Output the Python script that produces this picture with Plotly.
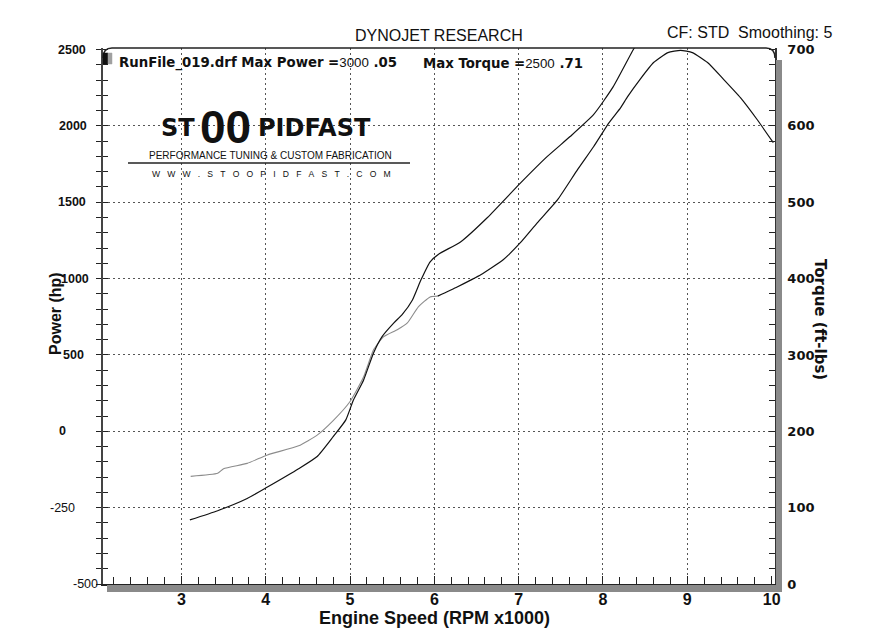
import plotly.graph_objects as go

# ---------------- data ----------------
# black curve (rises steeply, leaves the top of the chart)
rpm_a = [3.10, 3.43, 3.78, 4.02, 4.39, 4.61, 4.80, 4.95, 5.04, 5.16, 5.28, 5.38, 5.52,
         5.62, 5.74, 5.84, 5.95, 6.05, 6.31, 6.63, 7.02, 7.34, 7.61, 7.89, 8.12, 8.36, 8.45]
tq_a = [84, 96, 112, 127, 151, 167, 193, 215, 241, 267, 303, 324, 342,
        353, 372, 398, 422, 432, 448, 480, 525, 560, 586, 615, 651, 700, 716]

# grey curve (low rpm part)
rpm_b = [3.11, 3.43, 3.50, 3.78, 4.02, 4.39, 4.61, 4.80, 5.00, 5.16, 5.28, 5.40,
         5.56, 5.68, 5.81, 5.95, 6.04]
tq_b = [141, 145, 151, 158, 169, 181, 195, 214, 239, 271, 307, 324,
        333, 342, 363, 376, 377]

# black curve continuing from 6000 rpm, peaking near 8900 rpm
rpm_c = [6.04, 6.27, 6.43, 6.55, 6.82, 7.02, 7.22, 7.46, 7.70, 7.89, 8.07, 8.21,
         8.29, 8.44, 8.60, 8.77, 8.92, 9.06, 9.24, 9.43, 9.63, 9.83, 10.02]
tq_c = [377, 389, 398, 405, 425, 447, 473, 503, 543, 573, 604, 624,
        638, 661, 683, 696, 699, 696, 683, 661, 637, 608, 578]

x_tick_vals = [3, 4, 5, 6, 7, 8, 9, 10]
x_tick_text = ["3", "4", "5", "6", "7", "8", "9", "10"]
x_grid_vals = [3, 4, 5, 6, 7, 8, 9]

torque_tick_vals = [0, 100, 200, 300, 400, 500, 600, 700]
torque_tick_text = ["0", "100", "200", "300", "400", "500", "600", "700"]
power_tick_text = ["-500", "-250", "0", "500", "1000", "1500", "2000", "2500"]
y_grid_vals = [100, 200, 300, 400, 500, 600]

# ---------------- layout helpers ----------------
W, H = 873, 637
L, R, T, B = 103, 775, 48, 584
PW, PH = R - L, B - T
X_RANGE = [2.07, 10.04]
Y_RANGE = [0, 702]


def px(x):
    return (x - L) / PW


def py(y):
    return (B - y) / PH


GRID_DASH = "1.5px,3.5px"
GRID_COLOR = "#555555"
AX_COLOR = "#222222"
BAR = "#8a8a8a"

fig = go.Figure()
fig.add_trace(go.Scatter(x=rpm_b, y=tq_b, mode="lines",
                         line=dict(color="#8c8c8c", width=1.1, shape="spline", smoothing=0.5),
                         hoverinfo="skip", showlegend=False))
fig.add_trace(go.Scatter(x=rpm_a, y=tq_a, mode="lines",
                         line=dict(color="#111111", width=1.2, shape="spline", smoothing=0.5),
                         hoverinfo="skip", showlegend=False))
fig.add_trace(go.Scatter(x=rpm_c, y=tq_c, mode="lines",
                         line=dict(color="#111111", width=1.2, shape="spline", smoothing=0.5),
                         hoverinfo="skip", showlegend=False))
# empty traces so the overlay axes are drawn
fig.add_trace(go.Scatter(x=[], y=[], yaxis="y2", showlegend=False, hoverinfo="skip"))
fig.add_trace(go.Scatter(x=[], y=[], yaxis="y3", showlegend=False, hoverinfo="skip"))
fig.add_trace(go.Scatter(x=[], y=[], xaxis="x2", showlegend=False, hoverinfo="skip"))

minor_x = dict(tickmode="linear", tick0=0, dtick=0.2, ticks="inside", ticklen=7,
               tickcolor=AX_COLOR, tickwidth=1, showgrid=False)

fig.update_layout(
    width=W, height=H,
    margin=dict(l=L, r=W - R, t=T, b=H - B, pad=0),
    paper_bgcolor="white",
    plot_bgcolor="white",
    showlegend=False,
    xaxis=dict(range=X_RANGE, tickmode="array", tickvals=x_tick_vals, ticktext=x_tick_text,
               ticks="inside", ticklen=8, tickcolor=AX_COLOR, tickwidth=1,
               showline=True, linecolor=AX_COLOR, linewidth=1.5,
               showgrid=False, zeroline=False, minor=minor_x,
               tickfont=dict(family="Liberation Sans, Arial", size=16, color="#111", weight="bold"),
               ticklabelstandoff=0, fixedrange=True),
    xaxis2=dict(range=X_RANGE, overlaying="x", tickmode="array", tickvals=x_grid_vals,
                showticklabels=False, ticks="", showgrid=True, gridcolor=GRID_COLOR,
                griddash=GRID_DASH, gridwidth=1, zeroline=False, showline=False, fixedrange=True),
    yaxis=dict(range=Y_RANGE, tickmode="array", tickvals=torque_tick_vals,
               showticklabels=False, ticks="outside", ticklen=5, tickcolor=AX_COLOR, tickwidth=1,
               minor=dict(tickmode="linear", tick0=0, dtick=20, ticks="outside", ticklen=5,
                          tickcolor=AX_COLOR, tickwidth=1, showgrid=False),
               showline=True, linecolor="#444444", linewidth=2,
               showgrid=False, zeroline=False, fixedrange=True),
    yaxis3=dict(range=Y_RANGE, overlaying="y", anchor="x", side="left",
                tickmode="array", tickvals=y_grid_vals, showticklabels=False,
                ticks="inside", ticklen=5, tickcolor=AX_COLOR, tickwidth=1,
                minor=dict(tickmode="linear", tick0=0, dtick=20, ticks="inside", ticklen=5,
                           tickcolor=AX_COLOR, tickwidth=1, showgrid=False),
                showgrid=True, gridcolor=GRID_COLOR, griddash=GRID_DASH, gridwidth=1,
                showline=False, zeroline=False, fixedrange=True),
    yaxis2=dict(range=Y_RANGE, overlaying="y", anchor="x", side="right",
                tickmode="array", tickvals=torque_tick_vals, ticktext=torque_tick_text,
                ticks="inside", ticklen=6, tickcolor=AX_COLOR, tickwidth=1,
                minor=dict(tickmode="linear", tick0=0, dtick=20, ticks="inside", ticklen=6,
                           tickcolor=AX_COLOR, tickwidth=1, showgrid=False),
                showline=True, linecolor="#333333", linewidth=1.5,
                showgrid=False, zeroline=False,
                tickfont=dict(family="DejaVu Sans", size=13, color="#111", weight="bold"),
                ticklabelstandoff=8, fixedrange=True),
)

# ---------------- frame decorations ----------------
shapes = []
# top border with rounded corners
shapes.append(dict(type="path", xref="paper", yref="paper", layer="above",
                   path=f"M {px(103)},{py(58)} Q {px(103)},{py(48)} {px(112)},{py(48)} "
                        f"L {px(766)},{py(48)} Q {px(775)},{py(48)} {px(775)},{py(58)}",
                   line=dict(color="#222222", width=1.5)))
# small run icon
shapes.append(dict(type="rect", xref="paper", yref="paper", layer="above",
                   x0=px(103), x1=px(108), y0=py(64), y1=py(53),
                   fillcolor="#111111", line=dict(color="#111111", width=0.5)))
shapes.append(dict(type="rect", xref="paper", yref="paper", layer="above",
                   x0=px(108), x1=px(112), y0=py(64), y1=py(53),
                   fillcolor="#a0a0a0", line=dict(color="#a0a0a0", width=0.5)))
# logo underline swoosh
shapes.append(dict(type="line", xref="paper", yref="paper", layer="above",
                   x0=px(128), x1=px(410), y0=py(163), y1=py(163),
                   line=dict(color="#222222", width=1.6)))
fig.update_layout(shapes=shapes)

# ---------------- texts ----------------
ann = []


def box(x0, x1, y0, y1, color):
    # grey shadow strip drawn as an empty annotation box (outside the plot area)
    ann.append(dict(x=px((x0 + x1) / 2), y=py((y0 + y1) / 2), xref="paper", yref="paper",
                    text="\u00a0", showarrow=False, xanchor="center", yanchor="middle",
                    width=x1 - x0, height=y1 - y0, bgcolor=color, borderpad=0, borderwidth=0,
                    font=dict(size=1)))


box(776, 782, 60, 592, BAR)
box(107, 782, 585, 592, BAR)


def text(x, y, s, size, family="Liberation Sans, Arial", bold=False, xanchor="center",
         color="#111111", angle=0):
    ann.append(dict(x=px(x), y=py(y), xref="paper", yref="paper", text=s, showarrow=False,
                    xanchor=xanchor, yanchor="middle", textangle=angle,
                    font=dict(family=family, size=size, color=color,
                              weight="bold" if bold else "normal")))


text(439, 35, "DYNOJET RESEARCH", 16)
text(749, 33, "CF: STD\u00a0\u00a0Smoothing: 5", 16)
text(117, 63, "RunFile_019.drf Max Power =<span style='font-family:Liberation Sans, Arial;"
              "font-weight:normal'>3000</span> .05", 13.3, family="DejaVu Sans", bold=True,
     xanchor="left")
text(421, 63, "Max Torque =<span style='font-family:Liberation Sans, Arial;"
              "font-weight:normal'>2500</span> .71", 13.3, family="DejaVu Sans", bold=True,
     xanchor="left")

# logo
text(197, 128, "ST", 24, family="DejaVu Sans", bold=True, xanchor="right")
text(225, 127, "00", 46, family="Liberation Sans Narrow, Liberation Sans, Arial", bold=True)
text(256, 128, "PIDFAST", 24, family="DejaVu Sans", bold=True, xanchor="left")
text(270, 155, "PERFORMANCE TUNING & CUSTOM FABRICATION", 10)
www = "\u00a0\u00a0\u00a0".join(list("WWW.STOOPIDFAST.COM"))
text(271, 174, www, 8.6)

# axis titles
text(434, 618, "Engine Speed (RPM x1000)", 18, bold=True)
text(820, 319, "Torque (ft-lbs)", 15, family="DejaVu Sans", bold=True, angle=90)
text(55, 314, "Power (hp)", 16, bold=True, angle=-90)

# left (power) labels placed on the torque scale
left_label_x = [85, 62, 62, 73, 75, 72, 73, 72]
left_label_bold = [False, False, True, True, True, True, True, True]
for v, lab, xc, bd in zip(torque_tick_vals, power_tick_text, left_label_x, left_label_bold):
    ann.append(dict(x=px(xc), y=v, xref="paper", yref="y", text=lab, showarrow=False,
                    xanchor="center", yanchor="middle",
                    font=dict(family="Liberation Sans, Arial", size=12.5, color="#111111",
                              weight="bold" if bd else "normal")))

fig.update_layout(annotations=ann)

fig.write_html("out.html")
